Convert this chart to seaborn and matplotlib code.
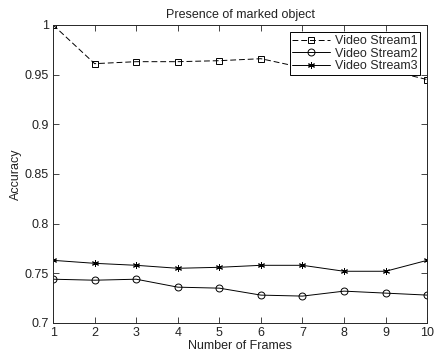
import matplotlib
matplotlib.use("Agg")
import matplotlib.pyplot as plt
import seaborn as sns

frames = [1, 2, 3, 4, 5, 6, 7, 8, 9, 10]
stream1 = [1.000, 0.961, 0.963, 0.963, 0.964, 0.966, 0.957, 0.957, 0.955, 0.945]
stream2 = [0.744, 0.743, 0.744, 0.736, 0.735, 0.728, 0.727, 0.732, 0.730, 0.728]
stream3 = [0.763, 0.760, 0.758, 0.755, 0.756, 0.758, 0.758, 0.752, 0.752, 0.763]
names = ["Video Stream1", "Video Stream2", "Video Stream3"]
yticks = [0.7, 0.75, 0.8, 0.85, 0.9, 0.95, 1]
ytick_labels = ["0.7", "0.75", "0.8", "0.85", "0.9", "0.95", "1"]

sns.set_style("ticks", {"xtick.direction": "in", "ytick.direction": "in"})
plt.rcParams['font.family'] = ['Liberation Sans', 'DejaVu Sans']

fig = plt.figure(figsize=(4.35, 3.51), dpi=100)
ax = fig.add_axes([0.122, 0.080, 0.860, 0.849])

# one call per series so the asterisk (line art) can go with hollow markers
styles = [("s", (0, (6, 3))), ("o", "-"), ((6, 2, 0), "-")]
for vals, name, (mk, ls) in zip([stream1, stream2, stream3], names, styles):
    sns.lineplot(x=frames, y=vals, color="black", marker=mk, linestyle=ls,
                 linewidth=0.7, markersize=5, markerfacecolor="none",
                 markeredgecolor="black", markeredgewidth=0.7,
                 label=name, ax=ax)

ax.set_xlim(1, 10)
ax.set_ylim(0.7, 1.0)
ax.set_xticks(frames)
ax.set_yticks(yticks)
ax.set_yticklabels(ytick_labels)
ax.tick_params(labelsize=9, length=4, width=0.6, top=True, right=True,
               pad=3, labelcolor="#222222")
for s in ax.spines.values():
    s.set_linewidth(0.7)
    s.set_visible(True)
ax.set_xlabel("Number of Frames", fontsize=9, labelpad=1, color="#222222")
ax.set_ylabel("Accuracy", fontsize=9, labelpad=2, color="#222222")
ax.set_title("Presence of marked object", fontsize=9, pad=5, color="#222222")

leg = ax.legend(loc="upper right", fontsize=9, frameon=True, fancybox=False,
                edgecolor="black", framealpha=1, borderpad=0.2,
                labelspacing=0.05, handlelength=3.0, handletextpad=0.4,
                borderaxespad=0.6)
leg.get_frame().set_linewidth(0.7)

fig.savefig("out.png", dpi=100)
